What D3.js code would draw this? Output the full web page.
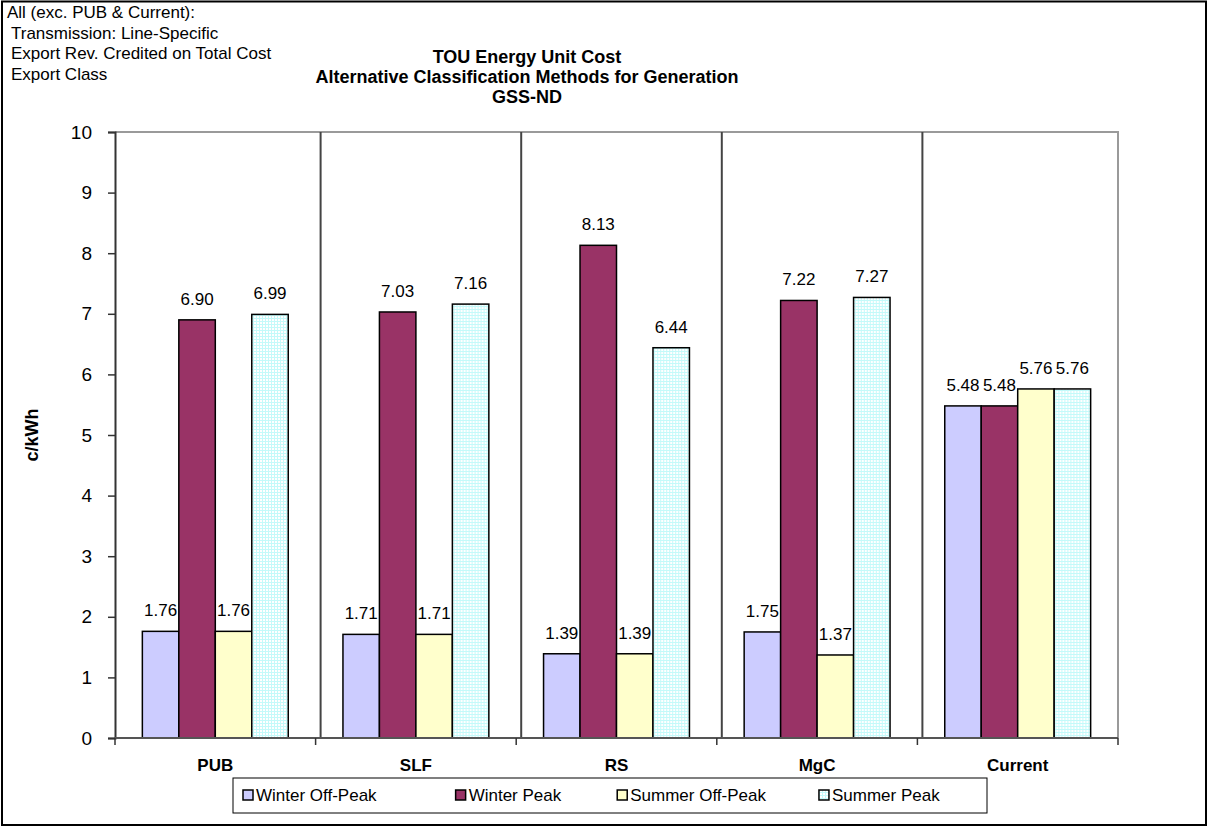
<!DOCTYPE html>
<html>
<head>
<meta charset="utf-8">
<script src="https://cdn.jsdelivr.net/npm/d3@7"></script>
<style>
  html, body { margin: 0; padding: 0; background: #fff; }
  svg { display: block; }
  text { font-family: Arial, "Liberation Sans", sans-serif; fill: #000; }
</style>
</head>
<body>
<svg id="chart" width="1209" height="827"></svg>
<script>
// ---- data ----
const categories = ["PUB", "SLF", "RS", "MgC", "Current"];
const seriesNames = ["Winter Off-Peak", "Winter Peak", "Summer Off-Peak", "Summer Peak"];
const winterOffPeak = [1.76, 1.71, 1.39, 1.75, 5.48];
const winterPeak    = [6.90, 7.03, 8.13, 7.22, 5.48];
const summerOffPeak = [1.76, 1.71, 1.39, 1.37, 5.76];
const summerPeak    = [6.99, 7.16, 6.44, 7.27, 5.76];
const yTicks = [0, 1, 2, 3, 4, 5, 6, 7, 8, 9, 10];
const titleLines = ["TOU Energy Unit Cost", "Alternative Classification Methods for Generation", "GSS-ND"];
const noteLines = ["All (exc. PUB & Current):", "Transmission: Line-Specific", "Export Rev. Credited on Total Cost", "Export Class"];
const yTitle = "c/kWh";

const seriesValues = [winterOffPeak, winterPeak, summerOffPeak, summerPeak];
const seriesFill = ["#CCCCFF", "#993366", "#FFFFCC", "url(#cyanGrid)"];

// ---- layout ----
const W = 1209, H = 827;
const plot = { left: 115, right: 1118, top: 132, bottom: 738 };
const legendGaps = [79, 56, 53];
const svg = d3.select("#chart");

// pattern for Summer Peak
const defs = svg.append("defs");
const pat = defs.append("pattern").attr("id", "cyanGrid")
  .attr("patternUnits", "userSpaceOnUse").attr("width", 3).attr("height", 3);
pat.append("rect").attr("width", 3).attr("height", 3).attr("fill", "#ffffff");
pat.append("rect").attr("width", 3).attr("height", 1).attr("fill", "#C4FAFA");
pat.append("rect").attr("width", 1).attr("height", 3).attr("fill", "#C4FAFA");

// outer border
svg.append("rect").attr("x", 2).attr("y", 1.5).attr("width", W - 5).attr("height", H - 3.5)
  .attr("fill", "#fff").attr("stroke", "#000").attr("stroke-width", 2);

// scales
const x0 = d3.scaleBand().domain(categories).range([plot.left, plot.right]).paddingInner(0).paddingOuter(0);
const x1 = d3.scaleBand().domain(d3.range(seriesNames.length)).range([0, x0.bandwidth()])
  .paddingInner(0).paddingOuter(0.75);
const y = d3.scaleLinear().domain([0, 10]).range([plot.bottom, plot.top]);

// plot border (top & right, gray)
svg.append("path")
  .attr("d", `M${plot.left},${plot.top}H${plot.right}V${plot.bottom}`)
  .attr("fill", "none").attr("stroke", "#9a9a9a").attr("stroke-width", 2);

// category separators (drawn lines just right of each boundary)
svg.append("g").selectAll("line")
  .data(categories.slice(0, -1))
  .join("line")
  .attr("x1", d => x0(d) + x0.bandwidth() + 5)
  .attr("x2", d => x0(d) + x0.bandwidth() + 5)
  .attr("y1", y(10)).attr("y2", y(0))
  .attr("stroke", "#444").attr("stroke-width", 2);

// bars
const groups = svg.append("g").selectAll("g")
  .data(categories)
  .join("g")
  .attr("transform", d => `translate(${x0(d)},0)`);

groups.selectAll("rect")
  .data((d, ci) => seriesValues.map((vals, si) => ({ si, v: vals[ci] })))
  .join("rect")
  .attr("x", d => x1(d.si))
  .attr("width", x1.bandwidth())
  .attr("y", d => y(d.v))
  .attr("height", d => y(0) - y(d.v))
  .attr("fill", d => seriesFill[d.si])
  .attr("stroke", "#000").attr("stroke-width", 1.5);

groups.selectAll("text.lbl")
  .data((d, ci) => seriesValues.map((vals, si) => ({ si, v: vals[ci] })))
  .join("text").attr("class", "lbl")
  .attr("x", d => x1(d.si) + x1.bandwidth() / 2)
  .attr("y", d => y(d.v) - 15)
  .attr("text-anchor", "middle")
  .style("font-size", "17px")
  .text(d => d.v.toFixed(2));

// y axis
const yAxis = svg.append("g").attr("transform", `translate(${plot.left},0)`)
  .call(d3.axisLeft(y).tickValues(yTicks).tickFormat(d3.format("d")).tickSize(7).tickPadding(16));
yAxis.select(".domain").attr("stroke", "#333").attr("stroke-width", 2);
yAxis.selectAll(".tick line").attr("stroke", "#333").attr("stroke-width", 1.5);
yAxis.selectAll(".tick text").style("font-size", "19px").style("font-family", "Arial, 'Liberation Sans', sans-serif");

// x axis
const bounds = categories.map(c => x0(c)).concat([plot.right]);
const xAxis = svg.append("g");
xAxis.append("line").attr("x1", plot.left).attr("x2", plot.right)
  .attr("y1", plot.bottom).attr("y2", plot.bottom)
  .attr("stroke", "#555").attr("stroke-width", 2);
xAxis.selectAll("line.tk").data(bounds).join("line").attr("class", "tk")
  .attr("x1", d => d).attr("x2", d => d)
  .attr("y1", plot.bottom).attr("y2", plot.bottom + 7)
  .attr("stroke", "#333").attr("stroke-width", 1.5);
xAxis.selectAll("text").data(categories).join("text")
  .attr("x", d => x0(d) + x0.bandwidth() / 2)
  .attr("y", plot.bottom + 33)
  .attr("text-anchor", "middle")
  .style("font-size", "17px").style("font-weight", "bold")
  .text(d => d);

// y title
svg.append("text")
  .attr("transform", `translate(38,${(plot.top + plot.bottom) / 2}) rotate(-90)`)
  .attr("text-anchor", "middle")
  .style("font-size", "18px").style("font-weight", "bold")
  .text(yTitle);

// title
svg.append("g").selectAll("text").data(titleLines).join("text")
  .attr("x", 527)
  .attr("y", (d, i) => 63 + i * 20)
  .attr("text-anchor", "middle")
  .style("font-size", "18px").style("font-weight", "bold")
  .text(d => d);

// note text (top-left)
svg.append("g").selectAll("text").data(noteLines).join("text")
  .attr("x", (d, i) => i === 0 ? 7 : 11)
  .attr("y", (d, i) => 18 + i * 20.5)
  .style("font-size", "17px")
  .text(d => d);

// legend
const legend = svg.append("g");
legend.append("rect").attr("x", 233).attr("y", 778).attr("width", 754).attr("height", 35)
  .attr("fill", "#fff").attr("stroke", "#000").attr("stroke-width", 1);
let lx = 243;
seriesNames.forEach((name, i) => {
  legend.append("rect").attr("x", lx).attr("y", 790).attr("width", 10).attr("height", 10)
    .attr("fill", seriesFill[i]).attr("stroke", "#000").attr("stroke-width", 1.5);
  const t = legend.append("text").attr("x", lx + 13).attr("y", 801)
    .style("font-size", "17px").text(name);
  lx += 13 + t.node().getComputedTextLength() + (legendGaps[i] || 0);
});
</script>
</body>
</html>
